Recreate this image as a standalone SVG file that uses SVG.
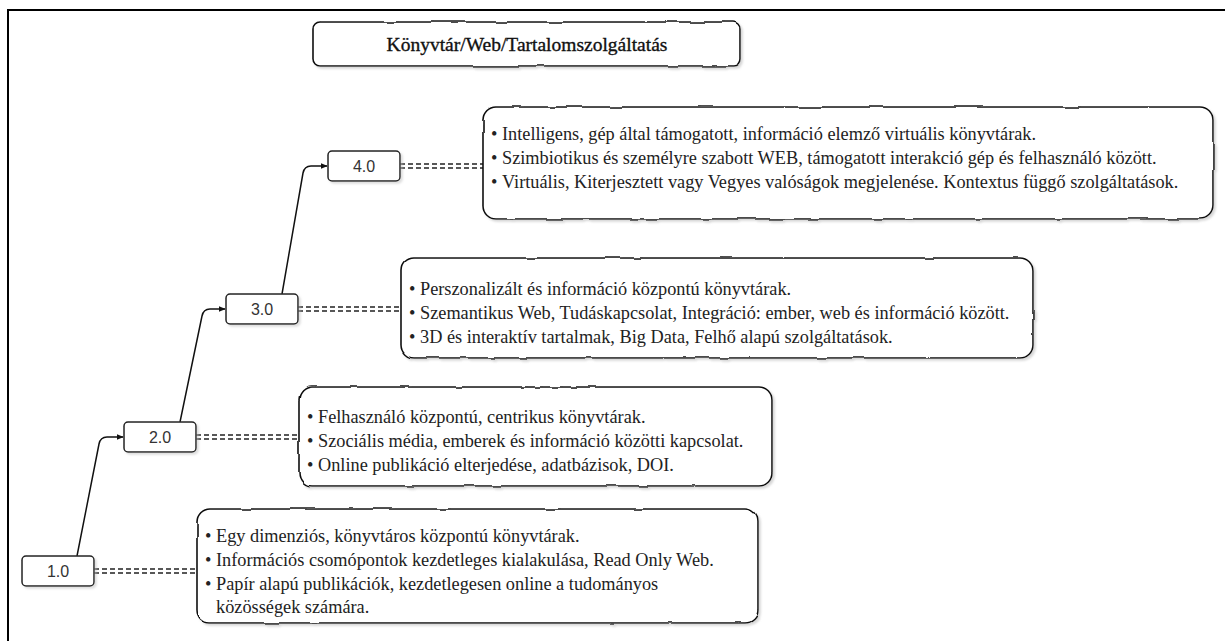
<svg xmlns="http://www.w3.org/2000/svg" width="1225" height="641" viewBox="0 0 1225 641">
<style>
.frame{fill:none;stroke:#000;stroke-width:2}
.cbox{fill:#fff;stroke:#111;stroke-width:1.6}
.nbox{fill:#fff;stroke:#222;stroke-width:1.5}
.ntxt{font-family:"Liberation Sans",Arial,sans-serif;font-size:16px;fill:#333;text-anchor:middle}
.btxt{font-family:"Liberation Serif","Times New Roman",serif;font-size:18.3px;fill:#222}
.title{font-family:"Liberation Serif","Times New Roman",serif;font-size:19.5px;fill:#111;stroke:#111;stroke-width:0.35;text-anchor:middle}
.link{fill:none;stroke:#111;stroke-width:1.5}
.dash{fill:none;stroke:#222;stroke-width:1.5;stroke-dasharray:5 3}
</style>
<defs>
<filter id="rough" x="-5%" y="-15%" width="110%" height="135%">
<feTurbulence type="fractalNoise" baseFrequency="0.035" numOctaves="2" seed="4" result="n"/>
<feDisplacementMap in="SourceGraphic" in2="n" scale="3" xChannelSelector="R" yChannelSelector="G" result="d"/>
<feGaussianBlur in="d" stdDeviation="1.2" result="b"/>
<feOffset in="b" dx="2" dy="2" result="o"/>
<feColorMatrix in="o" type="matrix" values="0 0 0 0 0.5  0 0 0 0 0.5  0 0 0 0 0.5  0 0 0 0.6 0" result="s"/>
<feMerge><feMergeNode in="s"/><feMergeNode in="d"/></feMerge>
</filter>
<filter id="shadow" x="-10%" y="-20%" width="125%" height="150%">
<feGaussianBlur in="SourceAlpha" stdDeviation="1" result="b"/>
<feOffset in="b" dx="1.5" dy="1.5" result="o"/>
<feColorMatrix in="o" type="matrix" values="0 0 0 0 0.5  0 0 0 0 0.5  0 0 0 0 0.5  0 0 0 0.5 0" result="s"/>
<feMerge><feMergeNode in="s"/><feMergeNode in="SourceGraphic"/></feMerge>
</filter>
<marker id="arr" viewBox="0 0 10 10" refX="9" refY="5" markerWidth="7" markerHeight="7" markerUnits="userSpaceOnUse" orient="auto">
<path d="M0,1 L10,5 L0,9 Z" fill="#111"/>
</marker>
</defs>

<path class="frame" d="M8,641 L8,10 L1225,10"/>

<g id="title">
<rect class="cbox" x="313" y="22" width="427" height="44" rx="7" filter="url(#rough)"/>
<text class="title" x="527" y="51">Könyvtár/Web/Tartalomszolgáltatás</text>
</g>

<g id="connectors">
<path class="link" d="M77,556 L99,444 Q100.5,437 107,437 L123,437" marker-end="url(#arr)"/>
<path class="link" d="M180,422 L202,316 Q203.5,309 210,309 L225,309" marker-end="url(#arr)"/>
<path class="link" d="M282,294 L303,173 Q304.5,166 311,166 L327,166" marker-end="url(#arr)"/>
<path class="dash" d="M94,569 L197,569 M94,573 L197,573"/>
<path class="dash" d="M196,435 L299,435 M196,439 L299,439"/>
<path class="dash" d="M298,307 L402,307 M298,311 L402,311"/>
<path class="dash" d="M400,164 L483,164 M400,168 L483,168"/>
</g>

<g id="n1">
<rect class="nbox" x="22" y="556" width="72" height="30" rx="4" filter="url(#shadow)"/>
<text class="ntxt" x="58" y="577">1.0</text>
</g>
<g id="n2">
<rect class="nbox" x="124" y="422" width="72" height="30" rx="4" filter="url(#shadow)"/>
<text class="ntxt" x="160" y="443">2.0</text>
</g>
<g id="n3">
<rect class="nbox" x="226" y="294" width="72" height="30" rx="4" filter="url(#shadow)"/>
<text class="ntxt" x="262" y="315">3.0</text>
</g>
<g id="n4">
<rect class="nbox" x="328" y="151" width="72" height="30" rx="4" filter="url(#shadow)"/>
<text class="ntxt" x="364" y="172">4.0</text>
</g>

<g id="b4">
<rect class="cbox" x="483" y="107" width="730" height="112" rx="13" filter="url(#rough)"/>
<text class="btxt" x="491" y="140">•</text><text class="btxt" x="502" y="140">Intelligens, gép által támogatott, információ elemző virtuális könyvtárak.</text>
<text class="btxt" x="491" y="164">•</text><text class="btxt" x="502" y="164">Szimbiotikus és személyre szabott WEB, támogatott interakció gép és felhasználó között.</text>
<text class="btxt" x="491" y="188">•</text><text class="btxt" x="502" y="188">Virtuális, Kiterjesztett vagy Vegyes valóságok megjelenése. Kontextus függő szolgáltatások.</text>
</g>

<g id="b3">
<rect class="cbox" x="401" y="258" width="632" height="100" rx="13" filter="url(#rough)"/>
<text class="btxt" x="409" y="295">•</text><text class="btxt" x="420" y="295">Perszonalizált és információ központú könyvtárak.</text>
<text class="btxt" x="409" y="319">•</text><text class="btxt" x="420" y="319">Szemantikus Web, Tudáskapcsolat, Integráció: ember, web és információ között.</text>
<text class="btxt" x="409" y="343">•</text><text class="btxt" x="420" y="343">3D és interaktív tartalmak, Big Data, Felhő alapú szolgáltatások.</text>
</g>

<g id="b2">
<rect class="cbox" x="299" y="387" width="473" height="99" rx="13" filter="url(#rough)"/>
<text class="btxt" x="307" y="423">•</text><text class="btxt" x="318" y="423">Felhasználó központú, centrikus könyvtárak.</text>
<text class="btxt" x="307" y="447">•</text><text class="btxt" x="318" y="447">Szociális média, emberek és információ közötti kapcsolat.</text>
<text class="btxt" x="307" y="471">•</text><text class="btxt" x="318" y="471">Online publikáció elterjedése, adatbázisok, DOI.</text>
</g>

<g id="b1">
<rect class="cbox" x="197" y="509" width="561" height="114" rx="13" filter="url(#rough)"/>
<text class="btxt" x="205" y="542">•</text><text class="btxt" x="216" y="542">Egy dimenziós, könyvtáros központú könyvtárak.</text>
<text class="btxt" x="205" y="566">•</text><text class="btxt" x="216" y="566">Információs csomópontok kezdetleges kialakulása, Read Only Web.</text>
<text class="btxt" x="205" y="590">•</text><text class="btxt" x="216" y="590">Papír alapú publikációk, kezdetlegesen online a tudományos</text>
<text class="btxt" x="216" y="613">közösségek számára.</text>
</g>
</svg>
